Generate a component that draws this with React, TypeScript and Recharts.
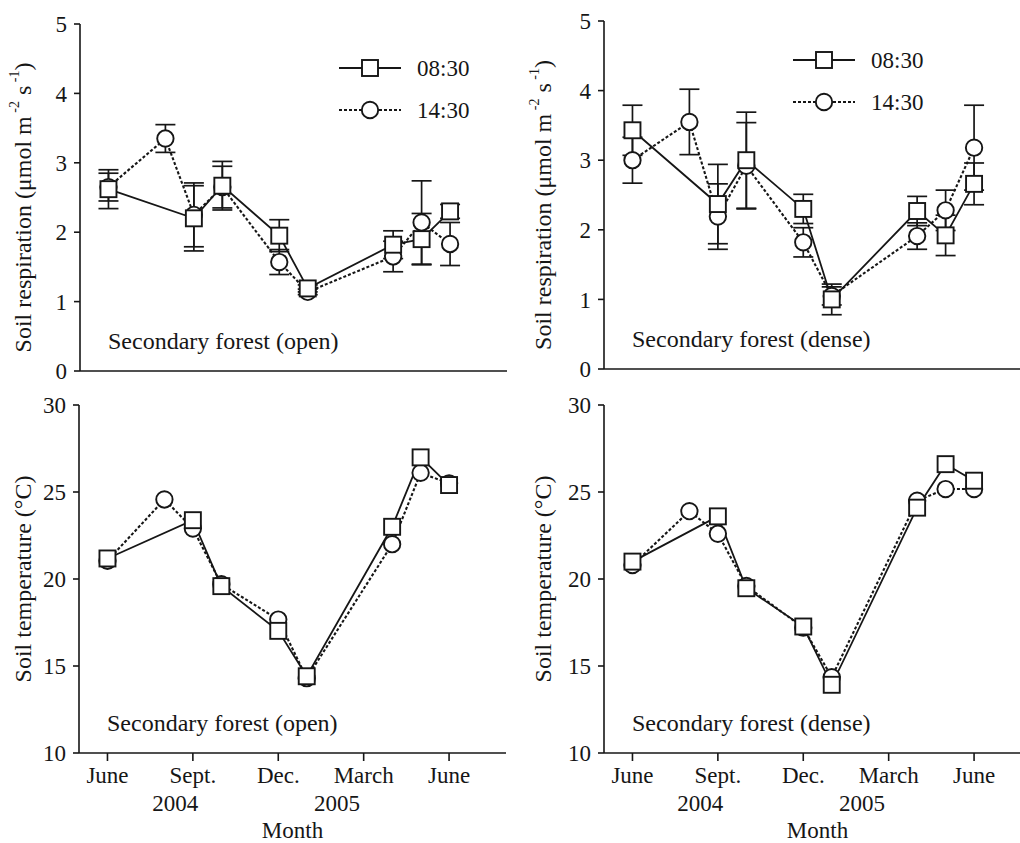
import React from 'react';
import { LineChart, Line, XAxis, YAxis, ErrorBar, Legend } from 'recharts';

const FONT = '"Liberation Serif", "Times New Roman", serif';
const INK = '#161616';

// month index: June 2004 = 0 ... June 2005 = 12
const amMonths = [0, 3, 4, 6, 7, 10, 11, 12];
const pmMonths = [0, 2, 3, 4, 6, 7, 10, 11, 12];

const monthTicks = [0, 3, 6, 9, 12];
const monthLabels = ['June', 'Sept.', 'Dec.', 'March', 'June'];
const yearTicks = [2.38, 8.06];
const yearLabels = ['2004', '2005'];

const seriesNames = ['08:30', '14:30'];

// soil respiration, secondary forest (open)
const respOpenAm = [2.62, 2.2, 2.67, 1.95, 1.19, 1.82, 1.9, 2.3];
const respOpenAmErr = [0.28, 0.47, 0.35, 0.23, 0.05, 0.2, 0.37, 0.1];
const respOpenPm = [2.65, 3.35, 2.25, 2.65, 1.57, 1.14, 1.65, 2.14, 1.83];
const respOpenPmErr = [0.2, 0.2, 0.46, 0.3, 0.18, 0.04, 0.22, 0.6, 0.31];

// soil respiration, secondary forest (dense)
const respDenseAm = [3.43, 2.37, 3.0, 2.3, 1.0, 2.27, 1.92, 2.66];
const respDenseAmErr = [0.36, 0.57, 0.69, 0.21, 0.22, 0.21, 0.29, 0.3];
const respDensePm = [3.0, 3.55, 2.19, 2.92, 1.82, 1.05, 1.91, 2.28, 3.18];
const respDensePmErr = [0.33, 0.47, 0.47, 0.62, 0.21, 0.13, 0.19, 0.29, 0.61];

// soil temperature
const tempOpenAm = [21.18, 23.38, 19.59, 17.02, 14.41, 23.0, 26.99, 25.4];
const tempOpenPm = [21.05, 24.57, 22.9, 19.7, 17.67, 14.3, 22.0, 26.1, 25.5];
const tempDenseAm = [21.0, 23.6, 19.47, 17.27, 13.92, 24.1, 26.6, 25.65];
const tempDensePm = [20.8, 23.9, 22.6, 19.6, 17.2, 14.36, 24.5, 25.17, 25.17];

const respTicks = [0, 1, 2, 3, 4, 5];
const tempTicks = [10, 15, 20, 25, 30];

const toPoints = (months: number[], vals: number[], errs?: number[]) =>
  months.map((m, i) => ({ m, v: vals[i], e: errs ? errs[i] : 0 }));

const SquareDot = (p: any) => {
  if (p.cx == null || p.cy == null) return <g key={p.index} />;
  return <rect key={p.index} x={p.cx - 8} y={p.cy - 8} width={16} height={16} fill="#fff" stroke={INK} strokeWidth={1.9} />;
};
const CircleDot = (p: any) => {
  if (p.cx == null || p.cy == null) return <g key={p.index} />;
  return <circle key={p.index} cx={p.cx} cy={p.cy} r={8.2} fill="#fff" stroke={INK} strokeWidth={1.9} />;
};

const MonthTick = ({ x, y, payload }: any) => {
  const i = monthTicks.indexOf(payload.value);
  return (
    <text x={x} y={y + 14} textAnchor="middle" dominantBaseline="central" fill={INK} fontSize={23} fontFamily={FONT}>
      {monthLabels[i]}
    </text>
  );
};

const YearTick = ({ x, y, payload }: any) => {
  const i = yearTicks.indexOf(payload.value);
  return (
    <text x={x} y={y + 12} textAnchor="middle" dominantBaseline="central" fill={INK} fontSize={23} fontFamily={FONT}>
      {yearLabels[i]}
    </text>
  );
};

const MonthTitle = ({ viewBox }: any) => {
  if (!viewBox) return null;
  return (
    <text x={viewBox.x + viewBox.width / 2} y={viewBox.y + 39} textAnchor="middle" dominantBaseline="central" fill={INK} fontSize={23} fontFamily={FONT}>
      Month
    </text>
  );
};

const RespTitle = ({ viewBox }: any) => {
  if (!viewBox) return null;
  const cx = 23;
  const cy = viewBox.y + viewBox.height / 2 + 10;
  return (
    <text x={cx} y={cy} transform={`rotate(-90 ${cx} ${cy})`} textAnchor="middle" dominantBaseline="central" fill={INK} fontSize={24} fontFamily={FONT}>
      Soil respiration (μmol m
      <tspan dy={-9} fontSize={14}> -2</tspan>
      <tspan dy={9}> s</tspan>
      <tspan dy={-9} fontSize={14}> -1</tspan>
      <tspan dy={9}>)</tspan>
    </text>
  );
};

const TempTitle = ({ viewBox }: any) => {
  if (!viewBox) return null;
  const cx = 23;
  const cy = viewBox.y + viewBox.height / 2;
  return (
    <text x={cx} y={cy} transform={`rotate(-90 ${cx} ${cy})`} textAnchor="middle" dominantBaseline="central" fill={INK} fontSize={24} fontFamily={FONT}>
      Soil temperature (°C)
    </text>
  );
};

const LegendKey = () => (
  <div style={{ fontFamily: FONT, fontSize: 23, color: INK, lineHeight: 1 }}>
    {seriesNames.map((name, i) => (
      <div key={name} style={{ display: 'flex', alignItems: 'center', height: 42 }}>
        <svg width={66} height={20}>
          <line x1={0} x2={62} y1={10} y2={10} stroke={INK} strokeWidth={i === 0 ? 1.8 : 2} strokeDasharray={i === 0 ? undefined : '3 2'} />
          {i === 0 ? (
            <rect x={23} y={2} width={16} height={16} fill="#fff" stroke={INK} strokeWidth={1.9} />
          ) : (
            <circle cx={31} cy={10} r={8.2} fill="#fff" stroke={INK} strokeWidth={1.9} />
          )}
        </svg>
        <span style={{ marginLeft: 12 }}>{name}</span>
      </div>
    ))}
  </div>
);

type Box = { left: number; top: number; width: number; height: number; mt: number; mr: number; yw: number; plotH: number };

function Panel(props: {
  box: Box;
  am: { m: number; v: number; e: number }[];
  pm: { m: number; v: number; e: number }[];
  yDomain: number[];
  yTicks: number[];
  title: any;
  note: string;
  bottom?: boolean;
  legendAt?: { left: number; top: number };
  err?: boolean;
}) {
  const { box, am, pm, yDomain, yTicks, title, note, bottom, legendAt, err } = props;
  const xh = box.height - box.mt - box.plotH;
  const axisStyle = { stroke: INK, strokeWidth: 1.6 };
  return (
    <div style={{ position: 'absolute', left: box.left, top: box.top, width: box.width, height: box.height }}>
      <LineChart width={box.width} height={box.height} margin={{ top: box.mt, right: box.mr, bottom: 0, left: 0 }}>
        <XAxis
          type="number"
          dataKey="m"
          domain={[-1, 14]}
          ticks={monthTicks}
          interval={0}
          height={bottom ? 38 : xh}
          tickSize={8}
          tickMargin={0}
          axisLine={axisStyle}
          tickLine={axisStyle}
          tick={bottom ? <MonthTick /> : false}
        />
        {bottom && (
          <XAxis
            xAxisId="yr"
            type="number"
            dataKey="m"
            domain={[-1, 14]}
            allowDataOverflow
            ticks={yearTicks}
            interval={0}
            height={xh - 38}
            axisLine={false}
            tickLine={false}
            tickSize={0}
            tickMargin={0}
            tick={<YearTick />}
            label={<MonthTitle />}
          />
        )}
        <YAxis
          type="number"
          domain={yDomain}
          ticks={yTicks}
          interval={0}
          width={box.yw}
          tickSize={6}
          tickMargin={7}
          axisLine={axisStyle}
          tickLine={axisStyle}
          tick={{ fill: INK, fontSize: 23, fontFamily: FONT }}
          label={title}
        />
        {legendAt && (
          <Legend
            layout="vertical"
            align="center"
            verticalAlign="middle"
            width={170}
            content={<LegendKey />}
            wrapperStyle={{ left: legendAt.left, top: legendAt.top, width: 170 }}
          />
        )}
        {err && (
          <Line data={pm} dataKey="v" stroke="none" dot={false} activeDot={false} isAnimationActive={false} legendType="none">
            <ErrorBar dataKey="e" width={10} stroke={INK} strokeWidth={1.7} isAnimationActive={false} />
          </Line>
        )}
        {err && (
          <Line data={am} dataKey="v" stroke="none" dot={false} activeDot={false} isAnimationActive={false} legendType="none">
            <ErrorBar dataKey="e" width={10} stroke={INK} strokeWidth={1.7} isAnimationActive={false} />
          </Line>
        )}
        <Line data={pm} dataKey="v" name={seriesNames[1]} stroke={INK} strokeWidth={2.1} strokeDasharray="3 2" dot={false} activeDot={false} isAnimationActive={false} />
        <Line data={am} dataKey="v" name={seriesNames[0]} stroke={INK} strokeWidth={1.8} dot={false} activeDot={false} isAnimationActive={false} />
        <Line data={pm} dataKey="v" stroke="none" dot={CircleDot} activeDot={false} isAnimationActive={false} legendType="none" />
        <Line data={am} dataKey="v" stroke="none" dot={SquareDot} activeDot={false} isAnimationActive={false} legendType="none" />
      </LineChart>
      <div
        style={{
          position: 'absolute',
          left: box.yw + 28,
          top: box.mt + box.plotH - 30,
          transform: 'translateY(-50%)',
          fontFamily: FONT,
          fontSize: 24,
          color: INK,
          whiteSpace: 'nowrap',
          lineHeight: 1,
        }}
      >
        {note}
      </div>
    </div>
  );
}

export default function App() {
  return (
    <div style={{ position: 'absolute', left: 0, top: 0, width: 1020, height: 843, overflow: 'hidden', background: '#fff' }}>
      <Panel
        box={{ left: 0, top: 0, width: 520, height: 390, mt: 24, mr: 13, yw: 80, plotH: 347 }}
        am={toPoints(amMonths, respOpenAm, respOpenAmErr)}
        pm={toPoints(pmMonths, respOpenPm, respOpenPmErr)}
        yDomain={[0, 5]}
        yTicks={respTicks}
        title={<RespTitle />}
        note="Secondary forest (open)"
        legendAt={{ left: 339, top: 47 }}
        err
      />
      <Panel
        box={{ left: 520, top: 0, width: 520, height: 390, mt: 21, mr: 9, yw: 84, plotH: 348 }}
        am={toPoints(amMonths, respDenseAm, respDenseAmErr)}
        pm={toPoints(pmMonths, respDensePm, respDensePmErr)}
        yDomain={[0, 5]}
        yTicks={respTicks}
        title={<RespTitle />}
        note="Secondary forest (dense)"
        legendAt={{ left: 273, top: 39 }}
        err
      />
      <Panel
        box={{ left: 0, top: 390, width: 520, height: 453, mt: 15, mr: 14, yw: 79, plotH: 348 }}
        am={toPoints(amMonths, tempOpenAm)}
        pm={toPoints(pmMonths, tempOpenPm)}
        yDomain={[10, 30]}
        yTicks={tempTicks}
        title={<TempTitle />}
        note="Secondary forest (open)"
        bottom
      />
      <Panel
        box={{ left: 520, top: 390, width: 520, height: 453, mt: 15, mr: 9, yw: 84, plotH: 348 }}
        am={toPoints(amMonths, tempDenseAm)}
        pm={toPoints(pmMonths, tempDensePm)}
        yDomain={[10, 30]}
        yTicks={tempTicks}
        title={<TempTitle />}
        note="Secondary forest (dense)"
        bottom
      />
    </div>
  );
}
